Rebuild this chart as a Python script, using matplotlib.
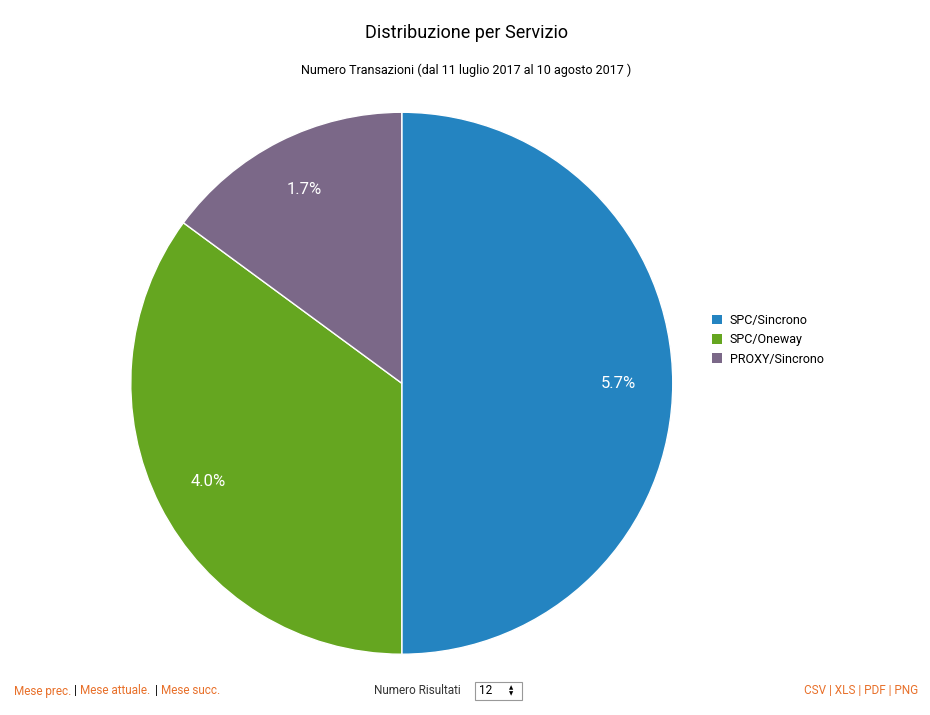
import matplotlib
matplotlib.use("Agg")
import matplotlib.pyplot as plt
from matplotlib.patches import Rectangle, Patch
import numpy as np

categories = ["SPC/Sincrono", "SPC/Oneway", "PROXY/Sincrono"]
values = [5.7, 4.0, 1.7]
colors = ["#2484c1", "#65a620", "#7b6888"]

plt.rcParams["font.family"] = "Roboto"
fig = plt.figure(figsize=(9.3, 7.15), dpi=100)
ax = fig.add_axes([0.432 - 0.2914, 0.464 - 0.3790, 0.5828, 0.7580])
wedges, texts = ax.pie(values, colors=colors, startangle=90, counterclock=False,
                       wedgeprops=dict(edgecolor="white", linewidth=1))
for w, v in zip(wedges, values):
    ang = np.deg2rad((w.theta1 + w.theta2) / 2)
    ax.text(0.8 * np.cos(ang), 0.8 * np.sin(ang), f"{v:.1f}%", ha="center", va="center",
            color="white", fontsize=12)
ax.set_xlim(-1, 1); ax.set_ylim(-1, 1)

fig.text(466/930, 1 - 33/715, "Distribuzione per Servizio", ha="center", va="center", fontsize=13)
fig.text(466/930, 1 - 70/715, "Numero Transazioni (dal 11 luglio 2017 al 10 agosto 2017 )",
         ha="center", va="center", fontsize=9)

handles = [Patch(facecolor=c) for c in colors]
fig.legend(handles, categories, loc="upper left", bbox_to_anchor=(707/930, 1 - 309/715),
           frameon=False, fontsize=9, handlelength=0.8, handleheight=0.8, handletextpad=0.6,
           labelspacing=0.5, borderaxespad=0)

orange = "#e8702a"
y = 1 - 691/715
fs = 8.5
fig.text(14/930, y, "Mese prec.", color=orange, fontsize=fs, va="center")
fig.text(74/930, y, "|", fontsize=fs, va="center")
fig.text(80/930, y, "Mese attuale.", color=orange, fontsize=fs, va="center")
fig.text(155/930, y, "|", fontsize=fs, va="center")
fig.text(161/930, y, "Mese succ.", color=orange, fontsize=fs, va="center")
fig.text(374/930, y, "Numero Risultati", fontsize=fs, va="center", color="#333333")
fig.add_artist(Rectangle((475/930, 1 - 700/715), 47/930, 18/715, transform=fig.transFigure,
                         facecolor="white", edgecolor="#999999", linewidth=0.8))
fig.text(479/930, y, "12", fontsize=fs, va="center")
fig.text(511/930, 1 - 688/715, "\u25b2", fontsize=4, va="center", ha="center", family="DejaVu Sans")
fig.text(511/930, 1 - 694/715, "\u25bc", fontsize=4, va="center", ha="center", family="DejaVu Sans")
fig.text(918/930, y, "CSV | XLS | PDF | PNG", color=orange, fontsize=fs, va="center", ha="right")

fig.savefig("out.png", dpi=100)
